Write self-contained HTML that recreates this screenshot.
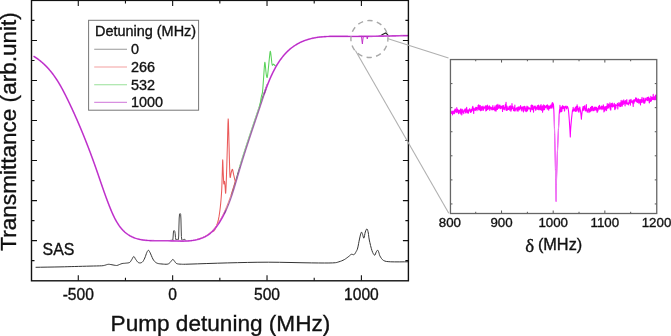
<!DOCTYPE html>
<html><head><meta charset="utf-8"><style>
html,body{margin:0;padding:0;background:#fff;}
body{width:671px;height:336px;overflow:hidden;}
svg{display:block;font-family:"Liberation Sans", sans-serif;will-change:transform;}
text{fill:#111;stroke:#111;stroke-width:0.35px;}
</style></head><body>
<svg width="671" height="336" viewBox="0 0 671 336">
<polyline points="231.53,194.20 231.81,193.36 232.08,192.52 232.35,191.67 232.62,190.83 232.89,189.98 233.15,189.14 233.41,188.29 233.67,187.45 233.93,186.60 234.18,185.75 234.44,184.90 234.69,184.05 234.94,183.20 235.19,182.35 235.44,181.50 235.69,180.65 235.94,179.80 236.19,178.95 236.44,178.10 236.68,177.25 236.93,176.40 237.18,175.55 237.43,174.70 237.67,173.85 237.92,173.00 238.17,172.15 238.42,171.30 238.67,170.46 238.92,169.61 239.18,168.76 239.43,167.92 239.68,167.07 239.94,166.23 240.19,165.39 240.45,164.54 240.71,163.70 240.97,162.86 241.22,162.02 241.48,161.18 241.74,160.33 242.01,159.49 242.27,158.66 242.53,157.82 242.79,156.98 243.06,156.14 243.32,155.30 243.58,154.46 243.85,153.63 244.12,152.79 244.38,151.96 244.65,151.12 244.92,150.28 245.18,149.45 245.45,148.62 245.72,147.78 245.99,146.95 246.26,146.11 246.53,145.28 246.80,144.45 247.07,143.62 247.35,142.78 247.62,141.95 247.89,141.12 248.16,140.29 248.44,139.46 248.71,138.63 248.99,137.80 249.26,136.97 249.53,136.14 249.81,135.31 250.09,134.48 250.36,133.65 250.64,132.82 250.91,131.99 251.19,131.16 251.46,130.33 251.74,129.50 252.02,128.67 252.30,127.84 252.57,127.02 252.85,126.19 253.13,125.36 253.40,124.53 253.68,123.70 253.96,122.88 254.24,122.05 254.52,121.22 254.79,120.39 255.07,119.56 255.35,118.74 255.63,117.91 255.91,117.08 256.18,116.25 256.46,115.42 256.74,114.60 257.02,113.77 257.29,112.94 257.57,112.11 257.85,111.28 258.13,110.45 258.40,109.63 258.68,108.80 258.96,107.97 259.23,107.14 259.51,106.31 259.79,105.48 260.06,104.65 260.34,103.82 260.62,102.99 260.89,102.16 261.17,101.33 261.44,100.50 261.72,99.67 262.00,98.84 262.28,98.01 262.56,97.19 262.84,96.36 263.12,95.53 263.40,94.70 263.69,93.87 263.98,93.04 264.27,92.22 264.56,91.39 264.85,90.56 265.15,89.74 265.45,88.91 265.75,88.09 266.06,87.27 266.37,86.44 266.68,85.62 267.00,84.80 267.32,83.98" fill="none" stroke="#444" stroke-width="1.0" stroke-linejoin="round" stroke-linecap="round" />
<polyline points="239.38,167.07 239.64,166.23 239.89,165.39 240.15,164.54 240.41,163.70 240.67,162.86 240.92,162.02 241.18,161.18 241.44,160.33 241.71,159.49 241.97,158.66 242.23,157.82 242.49,156.98 242.76,156.14 243.02,155.30 243.28,154.46 243.55,153.63 243.82,152.79 244.08,151.96 244.35,151.12 244.62,150.28 244.88,149.45 245.15,148.62 245.42,147.78 245.69,146.95 245.96,146.11 246.23,145.28 246.50,144.45 246.77,143.62 247.05,142.78 247.32,141.95 247.59,141.12 247.86,140.29 248.14,139.46 248.41,138.63 248.69,137.80 248.96,136.97 249.23,136.14 249.51,135.31 249.79,134.48 250.06,133.65 250.34,132.82 250.61,131.99 250.89,131.16 251.16,130.33 251.44,129.50 251.72,128.67 252.00,127.84 252.27,127.02 252.55,126.19 252.83,125.36 253.10,124.53 253.38,123.70 253.66,122.88 253.94,122.05 254.22,121.22 254.49,120.39 254.77,119.56 255.05,118.74 255.33,117.91 255.61,117.08 255.88,116.25 256.16,115.42 256.44,114.60 256.72,113.77 256.99,112.94 257.27,112.11 257.55,111.28 257.83,110.45 258.10,109.63 258.38,108.80 258.66,107.97 258.93,107.14 259.21,106.31 259.49,105.48 259.76,104.65 260.04,103.82 260.32,102.99 260.59,102.16 260.87,101.33 261.14,100.50" fill="none" stroke="#9edc9e" stroke-width="1.0" stroke-linejoin="round" stroke-linecap="round" />
<polyline points="197.29,239.34 198.10,239.11 198.91,238.86 199.71,238.60 200.50,238.31 201.28,238.02 202.05,237.70 202.81,237.36 203.57,237.01 204.31,236.64 205.04,236.25 205.76,235.84 206.47,235.41 207.17,234.96 207.86,234.49 208.54,234.00 209.20,233.49 209.85,232.96 210.48,232.41 211.11,231.84 211.72,231.26 212.32,230.65 212.91,230.03 213.49,229.39 214.05,228.74 214.61,228.07 215.15,227.39 215.68,226.70 216.21,226.00 216.72,225.29 217.22,224.56 217.72,223.83 218.20,223.09 218.68,222.34 219.15,221.59 219.61,220.83 220.06,220.07 220.51,219.30 220.94,218.53 221.37,217.76 221.80,216.98 222.21,216.20 222.62,215.42 223.02,214.63 223.42,213.84 223.80,213.05 224.19,212.26 224.56,211.46 224.93,210.66 225.30,209.86 225.65,209.05 226.01,208.24 226.35,207.43 226.69,206.62 227.03,205.81 227.36,204.99 227.69,204.17 228.01,203.35 228.33,202.53 228.64,201.70 228.95,200.87 229.25,200.04 229.55,199.21 229.85,198.38 230.14,197.55 230.43,196.71 230.72,195.88 231.00,195.04 231.28,194.20 231.56,193.36 231.83,192.52 232.10,191.67 232.37,190.83 232.64,189.98 232.90,189.14 233.16,188.29 233.42,187.45 233.68,186.60 233.93,185.75 234.19,184.90 234.44,184.05 234.69,183.20 234.94,182.35 235.19,181.50" fill="none" stroke="#ea5a5a" stroke-width="0.9" stroke-linejoin="round" stroke-linecap="round" />
<polyline points="170.50,240.40 172.80,240.20 173.10,237.00 173.35,233.00 173.70,230.80 174.30,230.60 174.80,231.40 175.20,233.80 175.50,237.50 175.90,239.80 176.80,239.60 177.60,239.40 178.40,239.60 178.70,236.00 178.95,226.00 179.20,218.00 179.55,214.10 180.10,213.50 180.65,214.30 180.95,219.00 181.15,228.00 181.40,236.50 181.80,239.80 182.80,240.10 183.60,239.50 184.20,239.10 184.80,239.80 186.00,240.40" fill="none" stroke="#464646" stroke-width="1.0" stroke-linejoin="round" stroke-linecap="round" />
<polyline points="379.00,36.20 380.60,35.70 383.00,34.30 385.50,32.90 387.00,34.00 388.30,35.70 389.50,36.20" fill="none" stroke="#222" stroke-width="1.2" stroke-linejoin="round" stroke-linecap="round" />
<polyline points="213.50,231.40 213.89,230.96 214.45,230.31 215.00,229.50 215.45,228.62 215.89,227.59 216.40,226.20 217.04,224.37 217.75,222.19 218.40,219.70 218.95,216.88 219.45,213.76 219.90,210.50 220.31,207.15 220.67,203.66 221.00,200.00 221.30,196.26 221.57,192.35 221.80,188.00 221.99,182.83 222.15,177.21 222.30,172.00 222.44,166.71 222.56,161.84 222.70,159.70 222.86,161.99 223.02,167.01 223.20,172.00 223.39,176.57 223.59,181.10 223.80,184.00 224.03,183.84 224.26,182.05 224.50,181.30 224.74,182.89 224.98,185.53 225.20,188.00 225.37,190.71 225.52,193.26 225.70,193.20 225.94,189.30 226.21,182.81 226.50,175.00 226.80,165.73 227.10,155.15 227.40,145.00 227.68,134.26 227.94,123.96 228.20,118.90 228.44,122.37 228.68,131.08 228.90,140.00 229.11,147.84 229.30,155.89 229.50,163.00 229.69,169.17 229.87,174.39 230.10,177.50 230.39,177.38 230.73,175.14 231.10,173.00 231.51,171.38 231.96,169.84 232.40,169.30 232.79,170.31 233.17,172.32 233.60,174.50 234.17,176.93 234.79,179.53 235.30,181.30 235.63,181.60 235.86,181.06 236.00,180.60" fill="none" stroke="#ea5a5a" stroke-width="1.05" stroke-linejoin="round" stroke-linecap="round" />
<polyline points="259.50,108.00 259.79,106.11 260.21,103.44 260.60,101.00 260.91,99.15 261.20,97.52 261.50,96.00 261.82,94.96 262.16,94.04 262.50,92.00 262.87,88.00 263.25,82.89 263.60,78.00 263.90,73.54 264.17,69.31 264.40,66.00 264.59,63.88 264.74,62.68 264.90,62.30 265.06,62.83 265.21,64.17 265.40,66.00 265.64,68.51 265.91,71.51 266.20,74.00 266.52,75.91 266.86,77.31 267.20,77.50 267.53,75.98 267.85,73.24 268.20,70.00 268.60,66.14 269.01,61.78 269.40,58.00 269.72,54.88 270.01,52.34 270.30,51.20 270.60,52.12 270.89,54.44 271.20,57.00 271.51,59.83 271.83,62.91 272.20,65.00 272.63,65.26 273.10,64.53 273.60,64.10 274.13,64.60 274.69,65.40 275.20,65.90 275.64,65.80 276.03,65.39 276.40,65.00 276.79,64.70 277.15,64.40 277.40,64.20" fill="none" stroke="#5ad25a" stroke-width="1.05" stroke-linejoin="round" stroke-linecap="round" />
<polyline points="34.05,56.51 34.83,57.01 35.60,57.51 36.35,58.02 37.10,58.53 37.84,59.06 38.56,59.60 39.28,60.14 39.98,60.69 40.68,61.25 41.36,61.82 42.04,62.39 42.70,62.97 43.36,63.56 44.01,64.16 44.64,64.76 45.27,65.37 45.89,65.99 46.50,66.62 47.11,67.25 47.70,67.88 48.29,68.53 48.86,69.18 49.43,69.83 50.00,70.49 50.55,71.16 51.10,71.84 51.64,72.51 52.17,73.20 52.70,73.89 53.22,74.58 53.73,75.28 54.24,75.99 54.74,76.70 55.23,77.41 55.72,78.13 56.21,78.85 56.68,79.58 57.15,80.31 57.62,81.04 58.08,81.78 58.54,82.53 58.99,83.27 59.43,84.02 59.88,84.78 60.31,85.53 60.75,86.29 61.18,87.05 61.60,87.82 62.02,88.58 62.44,89.35 62.86,90.13 63.27,90.90 63.68,91.68 64.08,92.46 64.48,93.24 64.88,94.02 65.28,94.80 65.68,95.59 66.07,96.38 66.46,97.17 66.85,97.95 67.24,98.74 67.63,99.54 68.01,100.33 68.39,101.12 68.78,101.91 69.16,102.71 69.54,103.50 69.91,104.30 70.29,105.09 70.67,105.89 71.04,106.68 71.41,107.48 71.79,108.28 72.16,109.08 72.52,109.88 72.89,110.68 73.26,111.48 73.62,112.28 73.99,113.08 74.35,113.88 74.71,114.68 75.07,115.49 75.43,116.29 75.79,117.10 76.15,117.90 76.50,118.71 76.85,119.51 77.21,120.32 77.56,121.13 77.91,121.93 78.26,122.74 78.61,123.55 78.95,124.36 79.30,125.17 79.64,125.98 79.99,126.79 80.33,127.60 80.67,128.41 81.01,129.22 81.35,130.03 81.68,130.84 82.02,131.66 82.36,132.47 82.69,133.28 83.02,134.10 83.35,134.91 83.68,135.72 84.01,136.54 84.34,137.35 84.67,138.17 85.00,138.98 85.32,139.80 85.64,140.62 85.97,141.43 86.29,142.25 86.61,143.07 86.93,143.89 87.25,144.70 87.56,145.52 87.88,146.34 88.20,147.16 88.51,147.98 88.82,148.80 89.14,149.62 89.45,150.43 89.76,151.25 90.07,152.07 90.37,152.89 90.68,153.71 90.99,154.54 91.29,155.36 91.59,156.18 91.90,157.00 92.20,157.82 92.50,158.64 92.80,159.46 93.10,160.28 93.40,161.10 93.69,161.93 93.99,162.75 94.29,163.57 94.58,164.39 94.87,165.21 95.16,166.04 95.46,166.86 95.75,167.68 96.04,168.50 96.32,169.33 96.61,170.15 96.90,170.97 97.18,171.79 97.47,172.62 97.75,173.44 98.04,174.26 98.32,175.08 98.60,175.91 98.88,176.73 99.17,177.55 99.45,178.38 99.73,179.20 100.01,180.02 100.29,180.85 100.57,181.67 100.86,182.49 101.14,183.32 101.42,184.14 101.70,184.97 101.99,185.79 102.27,186.62 102.56,187.44 102.85,188.27 103.13,189.10 103.42,189.92 103.71,190.75 104.00,191.58 104.30,192.41 104.59,193.24 104.89,194.07 105.19,194.89 105.49,195.72 105.79,196.56 106.09,197.39 106.40,198.22 106.70,199.05 107.01,199.88 107.32,200.72 107.64,201.55 107.96,202.38 108.28,203.22 108.60,204.06 108.92,204.89 109.25,205.73 109.58,206.57 109.92,207.41 110.26,208.24 110.60,209.08 110.94,209.92 111.29,210.76 111.65,211.60 112.01,212.43 112.37,213.26 112.74,214.09 113.12,214.91 113.50,215.73 113.89,216.55 114.28,217.36 114.68,218.16 115.10,218.96 115.51,219.74 115.94,220.53 116.38,221.30 116.82,222.06 117.28,222.82 117.74,223.56 118.21,224.29 118.70,225.02 119.19,225.73 119.70,226.42 120.21,227.11 120.74,227.78 121.28,228.44 121.84,229.08 122.40,229.71 122.98,230.32 123.58,230.92 124.18,231.49 124.80,232.06 125.44,232.60 126.08,233.13 126.74,233.63 127.42,234.12 128.10,234.59 128.80,235.05 129.51,235.48 130.23,235.90 130.97,236.29 131.71,236.67 132.47,237.03 133.23,237.37 134.01,237.68 134.79,237.98 135.58,238.26 136.39,238.52 137.20,238.76 138.02,238.98 138.85,239.19 139.68,239.38 140.53,239.55 141.37,239.71 142.23,239.85 143.09,239.98 143.95,240.09 144.82,240.20 145.70,240.29 146.57,240.37 147.45,240.44 148.34,240.51 149.22,240.56 150.11,240.61 151.00,240.65 151.89,240.68 152.78,240.70 153.67,240.72 154.57,240.74 155.46,240.75 156.36,240.76 157.26,240.76 158.16,240.77 159.06,240.77 159.96,240.76 160.87,240.76 161.77,240.76 162.67,240.75 163.58,240.75 164.49,240.75 165.39,240.75 166.30,240.76 167.21,240.76 168.12,240.77 169.03,240.79 169.94,240.81 170.85,240.83 171.75,240.85 172.66,240.88 173.57,240.90 174.48,240.93 175.39,240.96 176.29,240.99 177.20,241.01 178.10,241.04 179.00,241.06 179.90,241.07 180.80,241.08 181.70,241.09 182.59,241.09 183.48,241.09 184.37,241.07 185.26,241.05 186.14,241.03 187.02,240.99 187.90,240.94 188.77,240.88 189.64,240.81 190.51,240.73 191.37,240.63 192.23,240.52 193.08,240.40 193.93,240.26 194.78,240.11 195.61,239.94 196.45,239.76 197.27,239.56 198.09,239.34 198.90,239.11 199.71,238.86 200.51,238.60 201.30,238.31 202.08,238.02 202.85,237.70 203.61,237.36 204.37,237.01 205.11,236.64 205.84,236.25 206.56,235.84 207.27,235.41 207.97,234.96 208.66,234.49 209.34,234.00 210.00,233.49 210.65,232.96 211.28,232.41 211.91,231.84 212.52,231.26 213.12,230.65 213.71,230.03 214.29,229.39 214.85,228.74 215.41,228.07 215.95,227.39 216.48,226.70 217.01,226.00 217.52,225.29 218.02,224.56 218.52,223.83 219.00,223.09 219.48,222.34 219.95,221.59 220.41,220.83 220.86,220.07 221.31,219.30 221.74,218.53 222.17,217.76 222.60,216.98 223.01,216.20 223.42,215.42 223.82,214.63 224.22,213.84 224.60,213.05 224.99,212.26 225.36,211.46 225.73,210.66" fill="none" stroke="#e488ec" stroke-width="1.7" stroke-linejoin="round" stroke-linecap="round" />
<polyline points="264.24,93.87 264.53,93.04 264.82,92.22 265.11,91.39 265.40,90.56 265.70,89.74 266.00,88.91 266.30,88.09 266.61,87.27 266.92,86.44 267.23,85.62 267.55,84.80 267.87,83.98 268.19,83.16 268.52,82.34 268.85,81.53 269.19,80.71 269.53,79.90 269.87,79.08 270.23,78.27 270.58,77.46 270.94,76.65 271.31,75.84 271.68,75.04 272.06,74.23 272.44,73.43 272.83,72.63 273.23,71.83 273.63,71.03 274.04,70.24 274.46,69.45 274.88,68.66 275.31,67.88 275.74,67.10 276.19,66.32 276.64,65.55 277.09,64.79 277.56,64.03 278.03,63.27 278.51,62.52 279.00,61.78 279.49,61.04 279.99,60.31 280.50,59.59 281.02,58.88 281.55,58.17 282.08,57.47 282.63,56.78 283.18,56.09 283.74,55.42 284.31,54.76 284.89,54.10 285.47,53.45 286.07,52.82 286.68,52.19 287.29,51.58 287.91,50.98 288.55,50.38 289.19,49.80 289.85,49.23 290.51,48.68 291.18,48.13 291.86,47.60 292.56,47.08 293.26,46.58 293.97,46.08 294.69,45.60 295.42,45.13 296.16,44.68 296.90,44.24 297.65,43.81 298.41,43.39 299.18,42.99 299.96,42.60 300.74,42.22 301.53,41.86 302.32,41.51 303.12,41.17 303.92,40.85 304.73,40.54 305.55,40.24 306.37,39.96 307.19,39.69 308.02,39.43 308.86,39.18 309.69,38.95 310.53,38.73 311.38,38.53 312.23,38.33 313.08,38.15 313.93,37.98 314.79,37.82 315.65,37.67 316.51,37.53 317.38,37.40 318.25,37.28 319.12,37.16 319.99,37.06 320.87,36.97 321.75,36.88 322.63,36.80 323.51,36.73 324.39,36.67 325.28,36.61 326.17,36.56 327.06,36.52 327.94,36.48 328.84,36.44 329.73,36.42 330.62,36.39 331.51,36.37 332.41,36.36 333.30,36.35 334.20,36.34 335.09,36.34 335.98,36.34 336.88,36.34 337.77,36.34 338.67,36.35 339.56,36.35 340.46,36.36 341.35,36.37 342.24,36.38 343.13,36.39 344.02,36.39 344.91,36.40 345.80,36.41 346.68,36.42 347.57,36.42 348.45,36.43 349.34,36.43 350.22,36.43 351.10,36.43 351.98,36.44 352.86,36.44 353.74,36.44 354.61,36.44 355.49,36.43 356.36,36.43 357.24,36.43 358.11,36.43 358.98,36.42 359.86,36.42 360.73,36.41 361.60,36.40 362.47,36.40 363.34,36.39 364.21,36.38 365.08,36.37 365.95,36.36 366.82,36.36 367.69,36.35 368.56,36.33 369.42,36.32 370.29,36.31 371.16,36.30 372.03,36.29 372.90,36.27 373.76,36.26 374.63,36.25 375.50,36.23 376.37,36.22 377.24,36.20 378.10,36.19 378.97,36.17 379.84,36.16 380.71,36.14 381.58,36.12 382.45,36.11 383.32,36.09 384.19,36.07 385.07,36.06 385.94,36.04 386.81,36.02 387.68,36.00 388.56,35.98 389.43,35.97 390.31,35.95 391.19,35.93 392.06,35.91 392.94,35.89 393.82,35.87 394.70,35.85 395.59,35.83 396.47,35.82 397.35,35.80 398.24,35.78 399.12,35.76 400.01,35.74 400.90,35.72 401.79,35.70 402.68,35.68 403.57,35.66 404.47,35.64 405.36,35.63 406.26,35.61 407.16,35.59 408.06,35.57" fill="none" stroke="#e488ec" stroke-width="1.7" stroke-linejoin="round" stroke-linecap="round" />
<polyline points="224.57,213.84 224.95,213.05 225.34,212.26 225.71,211.46 226.08,210.66 226.45,209.86 226.80,209.05 227.16,208.24 227.50,207.43 227.84,206.62 228.18,205.81 228.51,204.99 228.84,204.17 229.16,203.35 229.48,202.53 229.79,201.70 230.10,200.87 230.40,200.04 230.70,199.21 231.00,198.38 231.29,197.55 231.58,196.71 231.87,195.88 232.15,195.04 232.43,194.20 232.71,193.36 232.98,192.52 233.25,191.67 233.52,190.83 233.79,189.98 234.05,189.14 234.31,188.29 234.57,187.45 234.83,186.60 235.08,185.75 235.34,184.90 235.59,184.05 235.84,183.20 236.09,182.35 236.34,181.50 236.59,180.65 236.84,179.80 237.09,178.95 237.34,178.10 237.58,177.25 237.83,176.40 238.08,175.55 238.33,174.70 238.57,173.85 238.82,173.00 239.07,172.15 239.32,171.30 239.57,170.46 239.82,169.61 240.08,168.76 240.33,167.92 240.58,167.07 240.84,166.23 241.09,165.39 241.35,164.54 241.61,163.70 241.87,162.86 242.12,162.02 242.38,161.18 242.64,160.33 242.91,159.49 243.17,158.66 243.43,157.82 243.69,156.98 243.96,156.14 244.22,155.30 244.48,154.46 244.75,153.63 245.02,152.79 245.28,151.96 245.55,151.12 245.82,150.28 246.08,149.45 246.35,148.62 246.62,147.78 246.89,146.95 247.16,146.11 247.43,145.28 247.70,144.45 247.97,143.62 248.25,142.78 248.52,141.95 248.79,141.12 249.06,140.29 249.34,139.46 249.61,138.63 249.89,137.80 250.16,136.97 250.43,136.14 250.71,135.31 250.99,134.48 251.26,133.65 251.54,132.82 251.81,131.99 252.09,131.16 252.36,130.33 252.64,129.50 252.92,128.67 253.20,127.84 253.47,127.02 253.75,126.19 254.03,125.36 254.30,124.53 254.58,123.70 254.86,122.88 255.14,122.05 255.42,121.22 255.69,120.39 255.97,119.56 256.25,118.74 256.53,117.91 256.81,117.08 257.08,116.25 257.36,115.42 257.64,114.60 257.92,113.77 258.19,112.94 258.47,112.11 258.75,111.28 259.03,110.45 259.30,109.63 259.58,108.80 259.86,107.97 260.13,107.14 260.41,106.31 260.69,105.48 260.96,104.65 261.24,103.82 261.52,102.99 261.79,102.16 262.07,101.33 262.34,100.50 262.62,99.67 262.90,98.84 263.18,98.01 263.46,97.19 263.74,96.36 264.02,95.53 264.30,94.70 264.59,93.87 264.88,93.04 265.17,92.22 265.46,91.39 265.75,90.56 266.05,89.74" fill="none" stroke="#e4b4ea" stroke-width="1.3" stroke-linejoin="round" stroke-linecap="round" />
<polyline points="34.05,56.51 34.83,57.01 35.60,57.51 36.35,58.02 37.10,58.53 37.84,59.06 38.56,59.60 39.28,60.14 39.98,60.69 40.68,61.25 41.36,61.82 42.04,62.39 42.70,62.97 43.36,63.56 44.01,64.16 44.64,64.76 45.27,65.37 45.89,65.99 46.50,66.62 47.11,67.25 47.70,67.88 48.29,68.53 48.86,69.18 49.43,69.83 50.00,70.49 50.55,71.16 51.10,71.84 51.64,72.51 52.17,73.20 52.70,73.89 53.22,74.58 53.73,75.28 54.24,75.99 54.74,76.70 55.23,77.41 55.72,78.13 56.21,78.85 56.68,79.58 57.15,80.31 57.62,81.04 58.08,81.78 58.54,82.53 58.99,83.27 59.43,84.02 59.88,84.78 60.31,85.53 60.75,86.29 61.18,87.05 61.60,87.82 62.02,88.58 62.44,89.35 62.86,90.13 63.27,90.90 63.68,91.68 64.08,92.46 64.48,93.24 64.88,94.02 65.28,94.80 65.68,95.59 66.07,96.38 66.46,97.17 66.85,97.95 67.24,98.74 67.63,99.54 68.01,100.33 68.39,101.12 68.78,101.91 69.16,102.71 69.54,103.50 69.91,104.30 70.29,105.09 70.67,105.89 71.04,106.68 71.41,107.48 71.79,108.28 72.16,109.08 72.52,109.88 72.89,110.68 73.26,111.48 73.62,112.28 73.99,113.08 74.35,113.88 74.71,114.68 75.07,115.49 75.43,116.29 75.79,117.10 76.15,117.90 76.50,118.71 76.85,119.51 77.21,120.32 77.56,121.13 77.91,121.93 78.26,122.74 78.61,123.55 78.95,124.36 79.30,125.17 79.64,125.98 79.99,126.79 80.33,127.60 80.67,128.41 81.01,129.22 81.35,130.03 81.68,130.84 82.02,131.66 82.36,132.47 82.69,133.28 83.02,134.10 83.35,134.91 83.68,135.72 84.01,136.54 84.34,137.35 84.67,138.17 85.00,138.98 85.32,139.80 85.64,140.62 85.97,141.43 86.29,142.25 86.61,143.07 86.93,143.89 87.25,144.70 87.56,145.52 87.88,146.34 88.20,147.16 88.51,147.98 88.82,148.80 89.14,149.62 89.45,150.43 89.76,151.25 90.07,152.07 90.37,152.89 90.68,153.71 90.99,154.54 91.29,155.36 91.59,156.18 91.90,157.00 92.20,157.82 92.50,158.64 92.80,159.46 93.10,160.28 93.40,161.10 93.69,161.93 93.99,162.75 94.29,163.57 94.58,164.39 94.87,165.21 95.16,166.04 95.46,166.86 95.75,167.68 96.04,168.50 96.32,169.33 96.61,170.15 96.90,170.97 97.18,171.79 97.47,172.62 97.75,173.44 98.04,174.26 98.32,175.08 98.60,175.91 98.88,176.73 99.17,177.55 99.45,178.38 99.73,179.20 100.01,180.02 100.29,180.85 100.57,181.67 100.86,182.49 101.14,183.32 101.42,184.14 101.70,184.97 101.99,185.79 102.27,186.62 102.56,187.44 102.85,188.27 103.13,189.10 103.42,189.92 103.71,190.75 104.00,191.58 104.30,192.41 104.59,193.24 104.89,194.07 105.19,194.89 105.49,195.72 105.79,196.56 106.09,197.39 106.40,198.22 106.70,199.05 107.01,199.88 107.32,200.72 107.64,201.55 107.96,202.38 108.28,203.22 108.60,204.06 108.92,204.89 109.25,205.73 109.58,206.57 109.92,207.41 110.26,208.24 110.60,209.08 110.94,209.92 111.29,210.76 111.65,211.60 112.01,212.43 112.37,213.26 112.74,214.09 113.12,214.91 113.50,215.73 113.89,216.55 114.28,217.36 114.68,218.16 115.10,218.96 115.51,219.74 115.94,220.53 116.38,221.30 116.82,222.06 117.28,222.82 117.74,223.56 118.21,224.29 118.70,225.02 119.19,225.73 119.70,226.42 120.21,227.11 120.74,227.78 121.28,228.44 121.84,229.08 122.40,229.71 122.98,230.32 123.58,230.92 124.18,231.49 124.80,232.06 125.44,232.60 126.08,233.13 126.74,233.63 127.42,234.12 128.10,234.59 128.80,235.05 129.51,235.48 130.23,235.90 130.97,236.29 131.71,236.67 132.47,237.03 133.23,237.37 134.01,237.68 134.79,237.98 135.58,238.26 136.39,238.52 137.20,238.76 138.02,238.98 138.85,239.19 139.68,239.38 140.53,239.55 141.37,239.71 142.23,239.85 143.09,239.98 143.95,240.09 144.82,240.20 145.70,240.29 146.57,240.37 147.45,240.44 148.34,240.51 149.22,240.56 150.11,240.61 151.00,240.65 151.89,240.68 152.78,240.70 153.67,240.72 154.57,240.74 155.46,240.75 156.36,240.76 157.26,240.76 158.16,240.77 159.06,240.77 159.96,240.76 160.87,240.76 161.77,240.76 162.67,240.75 163.58,240.75 164.49,240.75 165.39,240.75 166.30,240.76 167.21,240.76 168.12,240.77 169.03,240.79 169.94,240.81 170.85,240.83 171.75,240.85 172.66,240.88 173.57,240.90 174.48,240.93 175.39,240.96 176.29,240.99 177.20,241.01 178.10,241.04 179.00,241.06 179.90,241.07 180.80,241.08 181.70,241.09 182.59,241.09 183.48,241.09 184.37,241.07 185.26,241.05 186.14,241.03 187.02,240.99 187.90,240.94 188.77,240.88 189.64,240.81 190.51,240.73 191.37,240.63 192.23,240.52 193.08,240.40 193.93,240.26 194.78,240.11 195.61,239.94 196.45,239.76 197.27,239.56 198.09,239.34 198.90,239.11 199.71,238.86 200.51,238.60 201.30,238.31 202.08,238.02 202.85,237.70 203.61,237.36 204.37,237.01 205.11,236.64 205.84,236.25 206.56,235.84 207.27,235.41 207.97,234.96 208.66,234.49 209.34,234.00 210.00,233.49 210.65,232.96 211.28,232.41 211.91,231.84 212.52,231.26 213.12,230.65 213.71,230.03 214.29,229.39 214.85,228.74 215.41,228.07 215.95,227.39 216.48,226.70 217.01,226.00 217.52,225.29 218.02,224.56 218.52,223.83 219.00,223.09 219.48,222.34 219.95,221.59 220.41,220.83 220.86,220.07 221.31,219.30 221.74,218.53 222.17,217.76 222.60,216.98 223.01,216.20 223.42,215.42 223.82,214.63 224.22,213.84 224.60,213.05 224.99,212.26 225.36,211.46 225.73,210.66" fill="none" stroke="#b82cc4" stroke-width="1.1" stroke-linejoin="round" stroke-linecap="round" />
<polyline points="264.24,93.87 264.53,93.04 264.82,92.22 265.11,91.39 265.40,90.56 265.70,89.74 266.00,88.91 266.30,88.09 266.61,87.27 266.92,86.44 267.23,85.62 267.55,84.80 267.87,83.98 268.19,83.16 268.52,82.34 268.85,81.53 269.19,80.71 269.53,79.90 269.87,79.08 270.23,78.27 270.58,77.46 270.94,76.65 271.31,75.84 271.68,75.04 272.06,74.23 272.44,73.43 272.83,72.63 273.23,71.83 273.63,71.03 274.04,70.24 274.46,69.45 274.88,68.66 275.31,67.88 275.74,67.10 276.19,66.32 276.64,65.55 277.09,64.79 277.56,64.03 278.03,63.27 278.51,62.52 279.00,61.78 279.49,61.04 279.99,60.31 280.50,59.59 281.02,58.88 281.55,58.17 282.08,57.47 282.63,56.78 283.18,56.09 283.74,55.42 284.31,54.76 284.89,54.10 285.47,53.45 286.07,52.82 286.68,52.19 287.29,51.58 287.91,50.98 288.55,50.38 289.19,49.80 289.85,49.23 290.51,48.68 291.18,48.13 291.86,47.60 292.56,47.08 293.26,46.58 293.97,46.08 294.69,45.60 295.42,45.13 296.16,44.68 296.90,44.24 297.65,43.81 298.41,43.39 299.18,42.99 299.96,42.60 300.74,42.22 301.53,41.86 302.32,41.51 303.12,41.17 303.92,40.85 304.73,40.54 305.55,40.24 306.37,39.96 307.19,39.69 308.02,39.43 308.86,39.18 309.69,38.95 310.53,38.73 311.38,38.53 312.23,38.33 313.08,38.15 313.93,37.98 314.79,37.82 315.65,37.67 316.51,37.53 317.38,37.40 318.25,37.28 319.12,37.16 319.99,37.06 320.87,36.97 321.75,36.88 322.63,36.80 323.51,36.73 324.39,36.67 325.28,36.61 326.17,36.56 327.06,36.52 327.94,36.48 328.84,36.44 329.73,36.42 330.62,36.39 331.51,36.37 332.41,36.36 333.30,36.35 334.20,36.34 335.09,36.34 335.98,36.34 336.88,36.34 337.77,36.34 338.67,36.35 339.56,36.35 340.46,36.36 341.35,36.37 342.24,36.38 343.13,36.39 344.02,36.39 344.91,36.40 345.80,36.41 346.68,36.42 347.57,36.42 348.45,36.43 349.34,36.43 350.22,36.43 351.10,36.43 351.98,36.44 352.86,36.44 353.74,36.44 354.61,36.44 355.49,36.43 356.36,36.43 357.24,36.43 358.11,36.43 358.98,36.42 359.86,36.42 360.73,36.41 361.60,36.40 362.47,36.40 363.34,36.39 364.21,36.38 365.08,36.37 365.95,36.36 366.82,36.36 367.69,36.35 368.56,36.33 369.42,36.32 370.29,36.31 371.16,36.30 372.03,36.29 372.90,36.27 373.76,36.26 374.63,36.25 375.50,36.23 376.37,36.22 377.24,36.20 378.10,36.19 378.97,36.17 379.84,36.16 380.71,36.14 381.58,36.12 382.45,36.11 383.32,36.09 384.19,36.07 385.07,36.06 385.94,36.04 386.81,36.02 387.68,36.00 388.56,35.98 389.43,35.97 390.31,35.95 391.19,35.93 392.06,35.91 392.94,35.89 393.82,35.87 394.70,35.85 395.59,35.83 396.47,35.82 397.35,35.80 398.24,35.78 399.12,35.76 400.01,35.74 400.90,35.72 401.79,35.70 402.68,35.68 403.57,35.66 404.47,35.64 405.36,35.63 406.26,35.61 407.16,35.59 408.06,35.57" fill="none" stroke="#b82cc4" stroke-width="1.1" stroke-linejoin="round" stroke-linecap="round" />
<polyline points="224.32,213.84 224.70,213.05 225.09,212.26 225.46,211.46 225.83,210.66 226.20,209.86 226.55,209.05 226.91,208.24 227.25,207.43 227.59,206.62 227.93,205.81 228.26,204.99 228.59,204.17 228.91,203.35 229.23,202.53 229.54,201.70 229.85,200.87 230.15,200.04 230.45,199.21 230.75,198.38 231.04,197.55 231.33,196.71 231.62,195.88 231.90,195.04 232.18,194.20 232.46,193.36 232.73,192.52 233.00,191.67 233.27,190.83 233.54,189.98 233.80,189.14 234.06,188.29 234.32,187.45 234.58,186.60 234.83,185.75 235.09,184.90 235.34,184.05 235.59,183.20 235.84,182.35 236.09,181.50 236.34,180.65 236.59,179.80 236.84,178.95 237.09,178.10 237.33,177.25 237.58,176.40 237.83,175.55 238.08,174.70 238.32,173.85 238.57,173.00 238.82,172.15 239.07,171.30 239.32,170.46 239.57,169.61 239.83,168.76 240.08,167.92 240.33,167.07 240.59,166.23 240.84,165.39 241.10,164.54 241.36,163.70 241.62,162.86 241.87,162.02 242.13,161.18 242.39,160.33 242.66,159.49 242.92,158.66 243.18,157.82 243.44,156.98 243.71,156.14 243.97,155.30 244.23,154.46 244.50,153.63 244.77,152.79 245.03,151.96 245.30,151.12 245.57,150.28 245.83,149.45 246.10,148.62 246.37,147.78 246.64,146.95 246.91,146.11 247.18,145.28 247.45,144.45 247.72,143.62 248.00,142.78 248.27,141.95 248.54,141.12 248.81,140.29 249.09,139.46 249.36,138.63 249.64,137.80 249.91,136.97 250.18,136.14 250.46,135.31 250.74,134.48 251.01,133.65 251.29,132.82 251.56,131.99 251.84,131.16 252.11,130.33 252.39,129.50 252.67,128.67 252.95,127.84 253.22,127.02 253.50,126.19 253.78,125.36 254.05,124.53 254.33,123.70 254.61,122.88 254.89,122.05 255.17,121.22 255.44,120.39 255.72,119.56 256.00,118.74 256.28,117.91 256.56,117.08 256.83,116.25 257.11,115.42 257.39,114.60 257.67,113.77 257.94,112.94 258.22,112.11 258.50,111.28 258.78,110.45 259.05,109.63 259.33,108.80 259.61,107.97 259.88,107.14 260.16,106.31 260.44,105.48 260.71,104.65 260.99,103.82 261.27,102.99 261.54,102.16 261.82,101.33 262.09,100.50 262.37,99.67 262.65,98.84 262.93,98.01 263.21,97.19 263.49,96.36 263.77,95.53 264.05,94.70 264.34,93.87 264.63,93.04 264.92,92.22 265.21,91.39 265.50,90.56 265.80,89.74" fill="none" stroke="#7f4a8c" stroke-width="0.95" stroke-linejoin="round" stroke-linecap="round" />
<polyline points="36.00,267.30 40.53,267.23 47.08,267.12 54.09,267.01 60.00,266.90 64.31,266.80 67.89,266.70 71.20,266.60 74.70,266.50 78.57,266.40 82.55,266.29 86.43,266.19 90.00,266.10 93.33,266.03 96.49,265.96 99.28,265.89 101.50,265.80 102.94,265.68 103.77,265.54 104.33,265.38 105.00,265.20 105.83,264.97 106.64,264.69 107.44,264.45 108.20,264.30 108.90,264.28 109.55,264.35 110.23,264.47 111.00,264.60 111.96,264.76 113.04,264.96 114.10,265.16 115.00,265.30 115.62,265.41 116.06,265.51 116.52,265.52 117.20,265.40 118.22,265.05 119.46,264.53 120.74,264.00 121.90,263.60 122.86,263.41 123.73,263.34 124.58,263.30 125.50,263.20 126.56,263.08 127.69,262.96 128.78,262.76 129.70,262.40 130.37,261.82 130.89,261.09 131.33,260.28 131.80,259.50 132.31,258.62 132.81,257.63 133.30,256.83 133.80,256.50 134.28,256.82 134.75,257.61 135.24,258.60 135.80,259.50 136.43,260.37 137.10,261.32 137.82,262.16 138.60,262.70 139.47,262.92 140.41,262.91 141.35,262.67 142.20,262.20 142.93,261.44 143.60,260.41 144.22,259.23 144.80,258.00 145.35,256.64 145.86,255.12 146.34,253.67 146.80,252.50 147.23,251.61 147.63,250.92 148.01,250.46 148.40,250.30 148.77,250.44 149.12,250.86 149.51,251.54 150.00,252.50 150.65,253.91 151.42,255.71 152.20,257.53 152.90,259.00 153.47,259.99 153.96,260.71 154.45,261.27 155.00,261.80 155.60,262.31 156.21,262.74 156.90,263.10 157.70,263.40 158.64,263.63 159.69,263.79 160.82,263.90 162.00,264.00 163.30,264.11 164.72,264.21 166.08,264.26 167.20,264.20 168.01,264.02 168.62,263.74 169.11,263.39 169.60,263.00 170.08,262.55 170.50,262.02 170.90,261.49 171.30,261.00 171.71,260.49 172.11,259.96 172.50,259.55 172.90,259.40 173.29,259.60 173.66,260.05 174.06,260.63 174.50,261.20 174.95,261.80 175.40,262.47 175.95,263.11 176.70,263.60 177.63,263.89 178.71,264.06 179.98,264.14 181.50,264.20 182.68,264.25 183.69,264.26 185.74,264.22 190.00,264.10 197.30,263.87 206.84,263.54 217.39,263.19 227.70,262.90 237.59,262.66 247.67,262.43 257.91,262.26 268.30,262.20 279.39,262.29 291.00,262.51 302.01,262.74 311.30,262.90 318.53,262.97 324.30,263.01 328.93,262.99 332.70,262.90 335.34,262.73 336.80,262.49 337.76,262.18 338.90,261.80 340.33,261.35 341.71,260.83 343.03,260.25 344.30,259.60 345.53,258.84 346.73,257.99 347.83,257.15 348.80,256.40 349.58,255.74 350.21,255.13 350.79,254.63 351.40,254.30 352.08,254.29 352.78,254.51 353.46,254.71 354.10,254.60 354.68,254.07 355.23,253.29 355.73,252.38 356.20,251.50 356.61,250.78 356.97,250.12 357.32,249.27 357.70,248.00 358.13,246.08 358.58,243.70 359.04,241.22 359.50,239.00 359.96,236.95 360.43,234.95 360.89,233.30 361.30,232.30 361.66,232.19 361.98,232.75 362.29,233.64 362.60,234.50 362.92,235.55 363.24,236.87 363.57,237.94 363.90,238.20 364.24,237.27 364.57,235.52 364.93,233.56 365.30,232.00 365.71,230.84 366.16,229.81 366.60,229.10 367.00,228.90 367.36,229.35 367.69,230.32 368.01,231.60 368.30,233.00 368.53,234.46 368.71,236.09 368.94,237.92 369.30,240.00 369.86,242.56 370.55,245.51 371.29,248.37 372.00,250.70 372.68,252.44 373.37,253.82 374.02,254.76 374.60,255.20 375.07,254.91 375.47,253.99 375.83,252.88 376.20,252.00 376.59,251.34 376.97,250.72 377.34,250.29 377.70,250.20 378.05,250.57 378.38,251.29 378.70,252.17 379.00,253.00 379.21,253.72 379.36,254.45 379.57,255.23 380.00,256.10 380.64,257.18 381.42,258.41 382.39,259.59 383.60,260.50 384.89,261.07 386.29,261.43 388.13,261.64 390.70,261.80 394.71,261.89 399.79,261.88 404.65,261.83 408.00,261.80" fill="none" stroke="#333" stroke-width="1.0" stroke-linejoin="round" stroke-linecap="round" />
<path d="M78.28,280.8V275.30M78.28,0.4V5.90M125.46,280.8V277.80M125.46,0.4V3.40M172.65,280.8V275.30M172.65,0.4V5.90M219.84,280.8V277.80M219.84,0.4V3.40M267.02,280.8V275.30M267.02,0.4V5.90M314.21,280.8V277.80M314.21,0.4V3.40M361.40,280.8V275.30M361.40,0.4V5.90M31.5,20.42H34.50M408.4,20.42H405.40M31.5,40.44H37.00M408.4,40.44H402.90M31.5,60.46H34.50M408.4,60.46H405.40M31.5,80.48H37.00M408.4,80.48H402.90M31.5,100.50H34.50M408.4,100.50H405.40M31.5,120.52H37.00M408.4,120.52H402.90M31.5,140.54H34.50M408.4,140.54H405.40M31.5,160.56H37.00M408.4,160.56H402.90M31.5,180.58H34.50M408.4,180.58H405.40M31.5,200.60H37.00M408.4,200.60H402.90M31.5,220.62H34.50M408.4,220.62H405.40M31.5,240.64H37.00M408.4,240.64H402.90M31.5,260.66H34.50M408.4,260.66H405.40" stroke="#111" stroke-width="1.1" fill="none"/>
<rect x="31.5" y="0.4" width="376.90" height="280.40" fill="none" stroke="#111" stroke-width="1.4"/>
<circle cx="369.4" cy="39.0" r="18.5" fill="none" stroke="#a8a8a8" stroke-width="1.4" stroke-dasharray="5.4 4.287" stroke-dashoffset="2.7"/>
<line x1="387.4" y1="38.6" x2="448.5" y2="58" stroke="#b0b0b0" stroke-width="1.1"/>
<line x1="355.4" y1="50.5" x2="448.8" y2="213.2" stroke="#b0b0b0" stroke-width="1.1"/>
<text x="78.28" y="299.6" font-size="15.6" text-anchor="middle">-500</text>
<text x="172.65" y="299.6" font-size="15.6" text-anchor="middle">0</text>
<text x="267.02" y="299.6" font-size="15.6" text-anchor="middle">500</text>
<text x="361.40" y="299.6" font-size="15.6" text-anchor="middle">1000</text>
<text x="220.45" y="331" font-size="22.6" text-anchor="middle">Pump detuning (MHz)</text>
<text transform="translate(16.1,131.4) rotate(-90)" font-size="22.55" text-anchor="middle">Transmittance (arb.unit)</text>
<text x="42.6" y="255.2" font-size="15.9">SAS</text>
<rect x="88.6" y="20.3" width="110" height="89.9" fill="#fff" stroke="#777" stroke-width="1"/>
<text x="95" y="35.8" font-size="14.45">Detuning (MHz)</text>
<line x1="94.2" x2="127" y1="49.30" y2="49.30" stroke="#999" stroke-width="1.1"/>
<text x="131" y="54.20" font-size="14.4">0</text>
<line x1="94.2" x2="127" y1="67.00" y2="67.00" stroke="#f4a0a0" stroke-width="1.1"/>
<text x="131" y="71.90" font-size="14.4">266</text>
<line x1="94.2" x2="127" y1="84.70" y2="84.70" stroke="#98e098" stroke-width="1.1"/>
<text x="131" y="89.60" font-size="14.4">532</text>
<line x1="94.2" x2="127" y1="102.40" y2="102.40" stroke="#d890e0" stroke-width="1.1"/>
<text x="131" y="107.30" font-size="14.4">1000</text>
<polyline points="361.50,36.30 362.10,42.00 362.40,44.00 362.80,40.00 363.30,36.40" fill="none" stroke="#c030c8" stroke-width="1.0" stroke-linejoin="round" stroke-linecap="round" />
<polyline points="366.80,36.40 367.30,39.00 367.80,36.40" fill="none" stroke="#c030c8" stroke-width="1.0" stroke-linejoin="round" stroke-linecap="round" />
<polyline points="451.05,112.92 451.27,113.41 451.49,112.37 451.71,111.26 451.93,111.99 452.15,111.02 452.37,112.83 452.59,115.04 452.81,111.80 453.03,111.54 453.25,113.45 453.47,113.19 453.69,112.71 453.91,110.87 454.13,112.41 454.35,113.65 454.57,110.05 454.79,111.57 455.01,109.01 455.23,110.05 455.45,109.05 455.67,111.83 455.89,109.99 456.11,112.65 456.33,112.42 456.55,111.78 456.77,107.67 456.99,111.10 457.21,111.93 457.43,112.18 457.65,109.27 457.87,111.08 458.09,110.17 458.31,110.43 458.53,113.67 458.75,110.37 458.97,111.69 459.19,113.27 459.41,110.67 459.63,111.46 459.85,111.82 460.07,111.70 460.29,109.42 460.51,111.67 460.73,113.89 460.95,108.78 461.17,112.96 461.39,111.64 461.61,110.28 461.83,114.88 462.05,112.69 462.27,109.23 462.49,111.43 462.71,112.28 462.93,110.92 463.15,112.42 463.37,111.08 463.59,112.34 463.81,113.66 464.03,109.93 464.25,111.45 464.47,110.25 464.69,111.26 464.91,108.93 465.13,109.97 465.35,110.61 465.57,112.50 465.79,112.91 466.01,108.56 466.23,109.46 466.45,111.96 466.67,107.31 466.89,109.96 467.11,110.58 467.33,112.92 467.55,111.90 467.77,110.09 467.99,110.00 468.21,110.18 468.43,113.25 468.65,109.81 468.87,110.00 469.09,111.13 469.31,110.27 469.53,110.11 469.75,108.48 469.97,110.38 470.19,109.58 470.41,112.35 470.63,111.41 470.85,110.18 471.07,111.34 471.29,109.53 471.51,111.92 471.73,110.03 471.95,111.01 472.17,107.69 472.39,110.50 472.61,106.90 472.83,106.24 473.05,109.23 473.27,108.14 473.49,109.95 473.71,113.55 473.93,108.12 474.15,108.44 474.37,109.84 474.59,110.30 474.81,109.08 475.03,108.98 475.25,110.53 475.47,110.16 475.69,107.40 475.91,109.02 476.13,109.17 476.35,107.22 476.57,109.48 476.79,107.47 477.01,110.63 477.23,109.22 477.45,108.99 477.67,107.76 477.89,108.54 478.11,105.20 478.33,106.67 478.55,109.24 478.77,104.83 478.99,109.99 479.21,105.41 479.43,109.74 479.65,106.89 479.87,109.69 480.09,108.53 480.31,105.60 480.53,110.47 480.75,110.80 480.97,108.16 481.19,107.78 481.41,107.98 481.63,106.54 481.85,110.17 482.07,107.29 482.29,108.14 482.51,106.84 482.73,107.12 482.95,105.98 483.17,110.40 483.39,107.93 483.61,109.88 483.83,108.21 484.05,106.96 484.27,107.60 484.49,107.18 484.71,108.17 484.93,107.50 485.15,107.62 485.37,105.73 485.59,106.72 485.81,111.02 486.03,106.94 486.25,106.27 486.47,108.70 486.69,110.56 486.91,105.55 487.13,107.72 487.35,106.97 487.57,104.99 487.79,109.35 488.01,108.02 488.23,108.18 488.45,106.73 488.67,108.84 488.89,107.09 489.11,107.78 489.33,106.08 489.55,105.89 489.77,110.34 489.99,107.11 490.21,108.51 490.43,107.94 490.65,107.22 490.87,107.10 491.09,109.09 491.31,107.46 491.53,107.72 491.75,108.02 491.97,110.04 492.19,109.17 492.41,108.65 492.63,106.99 492.85,105.55 493.07,109.63 493.29,109.66 493.51,107.72 493.73,108.91 493.95,109.33 494.17,109.41 494.39,109.57 494.61,107.16 494.83,110.60 495.05,105.77 495.27,109.46 495.49,108.81 495.71,109.47 495.93,111.23 496.15,110.54 496.37,105.93 496.59,104.98 496.81,109.36 497.03,106.15 497.25,107.91 497.47,109.39 497.69,105.05 497.91,104.23 498.13,108.37 498.35,107.99 498.57,107.48 498.79,107.98 499.01,106.40 499.23,105.26 499.45,107.61 499.67,106.20 499.89,105.03 500.11,108.79 500.33,107.80 500.55,108.63 500.77,106.19 500.99,106.78 501.21,106.19 501.43,106.39 501.65,108.29 501.87,106.59 502.09,108.59 502.31,108.56 502.53,111.52 502.75,105.55 502.97,109.54 503.19,107.84 503.41,107.98 503.63,105.47 503.85,107.21 504.07,109.32 504.29,107.88 504.51,108.18 504.73,107.53 504.95,110.07 505.17,108.02 505.39,104.21 505.61,106.86 505.83,104.63 506.05,102.39 506.27,107.16 506.49,110.43 506.71,108.18 506.93,106.06 507.15,106.47 507.37,110.10 507.59,108.40 507.81,108.22 508.03,108.05 508.25,108.21 508.47,109.56 508.69,109.13 508.91,108.54 509.13,106.35 509.35,109.07 509.57,106.99 509.79,110.11 510.01,105.98 510.23,107.96 510.45,108.20 510.67,105.90 510.89,111.23 511.11,110.78 511.33,107.42 511.55,109.58 511.77,108.90 511.99,103.67 512.21,108.68 512.43,108.14 512.65,108.40 512.87,106.37 513.09,107.79 513.31,107.95 513.53,110.35 513.75,108.86 513.97,108.27 514.19,110.96 514.41,107.32 514.63,107.61 514.85,105.12 515.07,111.05 515.29,109.99 515.51,109.91 515.73,109.49 515.95,108.51 516.17,108.70 516.39,107.89 516.61,107.98 516.83,108.43 517.05,110.99 517.27,109.32 517.49,108.25 517.71,107.34 517.93,107.25 518.15,111.17 518.37,109.25 518.59,108.49 518.81,107.77 519.03,106.44 519.25,108.27 519.47,109.92 519.69,107.71 519.91,108.00 520.13,108.01 520.35,108.59 520.57,105.61 520.79,107.99 521.01,106.90 521.23,109.95 521.45,107.05 521.67,109.41 521.89,111.07 522.11,107.85 522.33,107.35 522.55,108.74 522.77,108.40 522.99,106.66 523.21,109.21 523.43,111.93 523.65,107.95 523.87,108.04 524.09,106.57 524.31,108.96 524.53,106.22 524.75,106.46 524.97,110.64 525.19,106.82 525.41,110.29 525.63,111.07 525.85,108.85 526.07,109.37 526.29,111.82 526.51,108.06 526.73,107.36 526.95,106.03 527.17,108.47 527.39,110.99 527.61,110.08 527.83,106.75 528.05,106.90 528.27,107.52 528.49,108.91 528.71,108.04 528.93,108.78 529.15,108.92 529.37,107.88 529.59,108.33 529.81,108.76 530.03,108.25 530.25,109.27 530.47,111.66 530.69,109.41 530.91,108.46 531.13,105.40 531.35,109.02 531.57,104.93 531.79,105.86 532.01,109.82 532.23,109.55 532.45,108.04 532.67,105.30 532.89,107.63 533.11,107.09 533.33,109.38 533.55,112.21 533.77,108.63 533.99,106.88 534.21,106.18 534.43,108.12 534.65,107.90 534.87,106.19 535.09,108.40 535.31,106.17 535.53,110.12 535.75,110.03 535.97,110.06 536.19,107.32 536.41,109.04 536.63,107.90 536.85,107.45 537.07,107.52 537.29,105.83 537.51,105.57 537.73,109.48 537.95,107.75 538.17,108.45 538.39,109.82 538.61,105.02 538.83,106.67 539.05,108.34 539.27,108.72 539.49,107.36 539.71,109.81 539.93,108.37 540.15,105.87 540.37,106.35 540.59,109.37 540.81,108.76 541.03,104.61 541.25,110.28 541.47,108.96 541.69,110.25 541.91,107.21 542.13,107.35 542.35,105.89 542.57,112.29 542.79,107.53 543.01,110.60 543.23,106.67 543.45,108.08 543.67,104.85 543.89,107.10 544.11,109.47 544.33,105.55 544.55,109.60 544.77,108.30 544.99,105.87 545.21,106.81 545.43,106.87 545.65,107.57 545.87,106.71 546.09,106.19 546.31,107.09 546.53,105.81 546.75,105.34 546.97,107.50 547.19,109.11 547.41,104.88 547.63,107.55 547.85,106.39 548.07,105.81 548.29,109.00 548.51,106.58 548.73,110.10 548.95,106.10 549.17,108.13 549.39,107.04 549.61,106.10 549.83,108.44 550.05,107.09 550.27,108.26 550.49,106.96 550.71,104.99 550.93,106.55 551.15,106.66 551.37,108.09 551.59,104.67 551.81,106.03 552.03,102.93 552.25,106.92 552.47,103.73 552.69,102.66 552.91,105.96 553.13,108.25 553.35,103.82 553.40,104.03 553.61,106.10 553.82,109.89 554.02,114.80 554.23,120.61 554.44,127.20 554.65,134.50 554.85,142.42 555.06,150.94 555.27,160.00 555.48,169.59 555.68,179.66 555.89,190.21 556.10,201.20 556.36,184.75 556.62,175.03 556.88,166.86 557.15,159.56 557.41,152.84 557.67,146.56 557.93,140.62 558.19,134.95 558.45,129.51 558.72,124.26 558.98,119.19 559.24,114.27 559.50,109.48 559.51,109.57 559.73,112.72 559.95,105.24 560.17,110.98 560.39,108.07 560.61,111.66 560.83,107.84 561.05,109.11 561.27,106.86 561.49,107.68 561.71,111.70 561.93,110.60 562.15,108.35 562.37,107.42 562.59,105.51 562.81,108.03 563.03,108.55 563.25,108.34 563.47,108.22 563.69,106.30 563.91,108.04 564.13,107.98 564.35,110.19 564.57,111.09 564.79,107.47 565.01,106.26 565.23,107.53 565.45,106.63 565.67,106.43 565.89,107.68 566.11,106.00 566.33,108.93 566.55,107.73 566.77,108.39 566.99,107.68 567.21,106.77 567.43,106.43 567.65,107.71 567.87,107.21 568.00,108.07 568.18,108.68 568.35,109.81 568.53,111.27 568.71,113.00 568.88,114.97 569.06,117.14 569.24,119.50 569.42,122.03 569.59,124.73 569.77,127.59 569.95,130.59 570.12,133.73 570.30,137.00 570.47,132.20 570.64,129.36 570.81,126.97 570.98,124.84 571.15,122.88 571.32,121.05 571.48,119.31 571.65,117.66 571.82,116.07 571.99,114.54 572.16,113.06 572.33,111.62 572.50,110.22 572.71,109.67 572.93,111.34 573.15,107.39 573.37,111.04 573.59,110.60 573.81,110.60 574.03,110.71 574.25,108.83 574.47,109.45 574.69,110.96 574.91,110.53 575.13,110.07 575.35,106.99 575.57,110.52 575.79,111.56 576.01,111.21 576.23,109.79 576.45,106.59 576.67,110.90 576.89,108.93 577.11,104.69 577.33,109.71 577.55,106.39 577.77,106.75 577.99,107.92 578.21,111.27 578.43,108.41 578.65,109.55 578.87,112.15 579.09,111.90 579.31,108.94 579.53,108.71 579.75,106.94 579.97,107.95 580.10,109.12 580.20,109.33 580.30,109.73 580.40,110.24 580.50,110.85 580.60,111.55 580.70,112.31 580.80,113.14 580.90,114.03 581.00,114.98 581.10,115.99 581.20,117.04 581.30,118.15 581.40,119.30 581.51,117.26 581.62,116.05 581.72,115.04 581.83,114.14 581.94,113.30 582.05,112.52 582.15,111.79 582.26,111.08 582.37,110.41 582.48,109.76 582.58,109.13 582.69,108.52 582.80,107.92 582.83,107.60 583.05,106.50 583.27,110.40 583.49,109.30 583.71,109.95 583.93,106.46 584.15,108.80 584.37,108.41 584.59,107.96 584.81,105.54 585.03,108.91 585.25,111.05 585.47,110.13 585.69,108.39 585.91,109.40 586.13,110.73 586.35,104.56 586.57,109.16 586.79,110.31 587.01,110.53 587.23,112.30 587.45,111.29 587.67,109.83 587.89,109.80 588.11,110.63 588.33,108.29 588.55,109.15 588.77,110.78 588.99,112.61 589.21,108.88 589.43,109.06 589.65,109.48 589.87,111.46 590.09,109.04 590.31,111.65 590.53,107.37 590.75,108.71 590.97,108.68 591.19,110.38 591.41,110.82 591.63,106.33 591.85,107.35 592.07,109.52 592.29,107.76 592.51,106.23 592.73,110.70 592.95,109.73 593.17,109.71 593.39,108.00 593.61,110.61 593.83,108.37 594.05,110.69 594.27,107.16 594.49,107.25 594.71,109.08 594.93,107.48 595.15,109.86 595.37,109.11 595.59,107.01 595.81,108.72 596.03,107.95 596.25,110.14 596.47,107.40 596.69,107.71 596.91,110.57 597.13,112.34 597.35,111.89 597.57,108.48 597.79,108.72 598.01,110.99 598.23,108.06 598.45,106.54 598.67,108.43 598.89,108.98 599.11,106.71 599.33,105.26 599.55,105.59 599.77,109.24 599.99,106.72 600.21,107.78 600.43,108.37 600.65,109.05 600.87,107.35 601.09,108.78 601.31,106.32 601.53,107.22 601.75,106.03 601.97,109.77 602.19,107.72 602.41,106.44 602.63,107.09 602.85,107.29 603.07,108.88 603.29,104.83 603.51,105.78 603.73,106.90 603.95,111.97 604.17,109.18 604.39,107.28 604.61,108.70 604.83,111.02 605.05,106.98 605.27,106.72 605.49,109.46 605.71,108.17 605.93,108.45 606.15,106.36 606.37,110.59 606.59,110.19 606.81,108.16 607.03,108.33 607.25,103.56 607.47,108.19 607.69,106.71 607.91,107.78 608.13,108.19 608.35,106.37 608.57,103.98 608.79,107.55 609.01,105.58 609.23,106.27 609.45,105.76 609.67,106.20 609.89,102.72 610.11,108.87 610.33,107.15 610.55,108.62 610.77,110.11 610.99,106.66 611.21,103.44 611.43,105.00 611.65,104.42 611.87,105.63 612.09,106.62 612.31,102.95 612.53,107.02 612.75,103.75 612.97,106.88 613.19,106.14 613.41,105.76 613.63,106.15 613.85,105.30 614.07,105.15 614.29,103.25 614.51,106.11 614.73,109.36 614.95,109.57 615.17,108.34 615.39,107.17 615.61,104.66 615.83,108.28 616.05,105.56 616.27,105.45 616.49,104.96 616.71,105.54 616.93,104.53 617.15,105.05 617.37,103.21 617.59,104.36 617.81,108.91 618.03,104.71 618.25,104.32 618.47,105.57 618.69,105.79 618.91,102.51 619.13,104.00 619.35,105.88 619.57,104.65 619.79,104.30 620.01,106.72 620.23,102.78 620.45,104.08 620.67,102.99 620.89,106.47 621.11,100.42 621.33,102.63 621.55,102.84 621.77,104.90 621.99,104.76 622.21,106.11 622.43,100.88 622.65,104.92 622.87,103.06 623.09,102.37 623.31,104.45 623.53,101.86 623.75,99.80 623.97,102.76 624.19,100.75 624.41,102.20 624.63,103.96 624.85,103.82 625.07,106.02 625.29,102.86 625.51,100.49 625.73,101.82 625.95,101.50 626.17,100.94 626.39,103.80 626.61,101.88 626.83,99.52 627.05,104.16 627.27,102.71 627.49,103.50 627.71,103.03 627.93,103.92 628.15,102.84 628.37,104.91 628.59,103.46 628.81,103.36 629.03,103.36 629.25,100.06 629.47,102.29 629.69,102.09 629.91,102.88 630.13,100.10 630.35,105.29 630.57,102.57 630.79,100.23 631.01,99.32 631.23,101.77 631.45,102.07 631.67,100.93 631.89,102.30 632.11,100.98 632.33,103.02 632.55,100.75 632.77,101.91 632.99,103.64 633.21,106.39 633.43,100.08 633.65,100.99 633.87,100.29 634.09,103.10 634.31,99.67 634.53,100.79 634.75,101.55 634.97,99.84 635.19,99.84 635.41,100.64 635.63,97.75 635.85,98.86 636.07,100.62 636.29,101.56 636.51,100.94 636.73,98.12 636.95,100.37 637.17,102.53 637.39,102.07 637.61,100.92 637.83,99.46 638.05,102.08 638.27,99.92 638.49,98.84 638.71,99.44 638.93,103.34 639.15,101.15 639.37,102.75 639.59,99.84 639.81,102.28 640.03,99.54 640.25,100.28 640.47,104.87 640.69,101.82 640.91,99.56 641.13,100.25 641.35,100.93 641.57,102.44 641.79,99.42 642.01,97.19 642.23,99.71 642.45,100.19 642.67,100.31 642.89,102.38 643.11,100.59 643.33,101.42 643.55,98.03 643.77,101.44 643.99,103.55 644.21,101.19 644.43,100.25 644.65,100.03 644.87,102.85 645.09,98.06 645.31,99.45 645.53,100.41 645.75,100.87 645.97,98.76 646.19,100.02 646.41,98.96 646.63,99.62 646.85,99.14 647.07,97.33 647.29,99.25 647.51,100.78 647.73,97.52 647.95,98.75 648.17,100.29 648.39,97.22 648.61,99.37 648.83,97.16 649.05,100.96 649.27,102.98 649.49,102.43 649.71,98.47 649.93,100.11 650.15,98.98 650.37,98.89 650.59,101.37 650.81,96.30 651.03,100.41 651.25,98.43 651.47,100.93 651.69,98.74 651.91,97.18 652.13,98.79 652.35,99.55 652.57,98.27 652.79,99.01 653.01,97.19 653.23,94.32 653.45,99.58 653.67,99.18 653.89,98.16 654.11,97.97 654.33,99.61 654.55,96.95 654.77,96.46 654.99,97.32 655.21,99.68 655.43,95.12 655.65,99.58 655.87,96.33 656.09,95.47 656.31,99.55" fill="none" stroke="#f0f" stroke-width="1.1" stroke-linejoin="round" stroke-linecap="round" />
<polyline points="554.02,114.80 554.23,120.61 554.44,127.20 554.65,134.50 554.85,142.42 555.06,150.94 555.27,160.00 555.48,169.59 555.68,179.66 555.89,190.21 556.10,201.20 556.36,184.75 556.62,175.03 556.88,166.86 557.15,159.56 557.41,152.84 557.67,146.56 557.93,140.62 558.19,134.95 558.45,129.51 558.72,124.26 558.98,119.19 559.24,114.27" fill="none" stroke="#ec84f2" stroke-width="1.0" stroke-linejoin="round" stroke-linecap="round" />
<path d="M475.72,213.5V211.80M475.72,59.55V61.25M501.55,213.5V210.50M501.55,59.55V62.55M527.38,213.5V211.80M527.38,59.55V61.25M553.20,213.5V210.50M553.20,59.55V62.55M579.02,213.5V211.80M579.02,59.55V61.25M604.85,213.5V210.50M604.85,59.55V62.55M630.67,213.5V211.80M630.67,59.55V61.25M450.45,83.60H452.45M656.75,83.60H654.75M450.45,107.67H452.45M656.75,107.67H654.75M450.45,131.74H452.45M656.75,131.74H654.75M450.45,155.81H452.45M656.75,155.81H654.75M450.45,179.88H452.45M656.75,179.88H654.75M450.45,203.95H452.45M656.75,203.95H654.75" stroke="#555" stroke-width="1" fill="none"/>
<rect x="450.45" y="59.55" width="206.30" height="153.95" fill="none" stroke="#666" stroke-width="1.3"/>
<text x="449.90" y="227.4" font-size="13.3" text-anchor="middle">800</text>
<text x="501.55" y="227.4" font-size="13.3" text-anchor="middle">900</text>
<text x="553.20" y="227.4" font-size="13.3" text-anchor="middle">1000</text>
<text x="604.85" y="227.4" font-size="13.3" text-anchor="middle">1100</text>
<text x="656.50" y="227.4" font-size="13.3" text-anchor="middle">1200</text>
<text x="525.2" y="252.4" font-size="18.9" font-family="Liberation Serif">δ</text>
<text x="537.9" y="250.3" font-size="16.3">(MHz)</text>
</svg></body></html>
